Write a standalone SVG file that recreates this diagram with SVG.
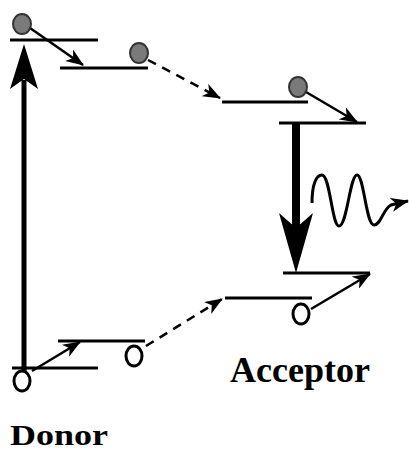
<svg xmlns="http://www.w3.org/2000/svg" width="409" height="452" viewBox="0 0 409 452">
<defs>
<style>
.lvl{stroke:#000;stroke-width:3;fill:none}
.ar{stroke:#000;stroke-width:2.5;fill:none}
.dash{stroke:#000;stroke-width:2.5;fill:none;stroke-dasharray:9 7}
.full{fill:#7a7a7a;stroke:#333;stroke-width:2}
.empty{fill:#fff;stroke:#000;stroke-width:3}
.lbl{font-family:"Liberation Serif",serif;font-weight:bold;font-size:36px;fill:#000}
</style>
<marker id="ah" markerWidth="18" markerHeight="14" viewBox="0 0 18 14" refX="17" refY="7" orient="auto" markerUnits="userSpaceOnUse">
<path d="M0,0 L18,7 L0,14 L5,7 Z" fill="#000"/>
</marker>
</defs>
<g id="connectors">
<line x1="24" y1="372" x2="24" y2="80" stroke="#000" stroke-width="5"/>
<path d="M24,44 L38,89 L24,79 L10,89 Z" fill="#000"/>
<line class="ar" x1="30" y1="28" x2="83" y2="65" marker-end="url(#ah)"/>
<line class="dash" x1="148" y1="60" x2="220" y2="98" marker-end="url(#ah)"/>
<line class="ar" x1="306" y1="92" x2="357" y2="122" marker-end="url(#ah)"/>
<line x1="296" y1="123" x2="296" y2="230" stroke="#000" stroke-width="8"/>
<path d="M296,273 L313,213 L296,228 L279,213 Z" fill="#000"/>
<path d="M312,203 C312,185 316,175 322,175 C330,175 332,226 339,226 C347,226 350,175 357,175 C364,175 366,225 374,225 C381,225 383,209 391,205 L408,201" stroke="#000" stroke-width="3" fill="none" marker-end="url(#ah)"/>
<line class="ar" x1="311" y1="309" x2="370" y2="274" marker-end="url(#ah)"/>
<line class="dash" x1="146" y1="346" x2="222" y2="299" marker-end="url(#ah)"/>
<line class="ar" x1="32" y1="371" x2="80" y2="342" marker-end="url(#ah)"/>
</g>
<g id="donor-excited-upper"><line class="lvl" x1="10" y1="40" x2="98" y2="40"/></g>
<g id="donor-excited-lower"><line class="lvl" x1="60" y1="68" x2="148" y2="68"/></g>
<g id="donor-ground-upper"><line class="lvl" x1="58" y1="341" x2="145" y2="341"/></g>
<g id="donor-ground-lower"><line class="lvl" x1="12" y1="368" x2="98" y2="368"/></g>
<g id="acceptor-excited-upper"><line class="lvl" x1="222" y1="102" x2="308" y2="102"/></g>
<g id="acceptor-excited-lower"><line class="lvl" x1="279" y1="123" x2="366" y2="123"/></g>
<g id="acceptor-ground-upper"><line class="lvl" x1="283" y1="273" x2="370" y2="273"/></g>
<g id="acceptor-ground-lower"><line class="lvl" x1="225" y1="298" x2="312" y2="298"/></g>
<g id="electron-1"><ellipse class="full" cx="22" cy="24" rx="9" ry="10"/></g>
<g id="electron-2"><ellipse class="full" cx="139" cy="53" rx="9" ry="10"/></g>
<g id="electron-3"><ellipse class="full" cx="298" cy="87" rx="9" ry="10"/></g>
<g id="hole-1"><ellipse class="empty" cx="22" cy="381" rx="8" ry="10"/></g>
<g id="hole-2"><ellipse class="empty" cx="134" cy="356" rx="8" ry="10"/></g>
<g id="hole-3"><ellipse class="empty" cx="301" cy="314" rx="8" ry="10"/></g>
<g id="label-acceptor"><text class="lbl" x="230" y="382">Acceptor</text></g>
<g id="label-donor"><text class="lbl" x="0" y="0" font-size="30" style="font-size:30px" transform="translate(10,445) scale(1.2,1)">Donor</text></g>
</svg>
